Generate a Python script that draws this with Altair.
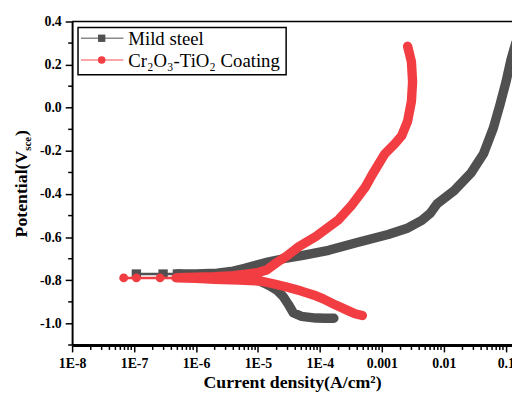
import altair as alt
import pandas as pd

# ---- data (current density A/cm^2, potential V) ----
steel_cath_current = [1.68e-4, 1.2e-4, 8.6e-5, 5.0e-5, 3.7e-5, 3.1e-5, 2.57e-5, 2.06e-5,
                      1.54e-5, 1.07e-5, 6e-6, 3e-6, 1.5e-6, 8e-7, 5e-7]
steel_cath_potential = [-0.976, -0.976, -0.975, -0.967, -0.95, -0.912, -0.876, -0.848,
                        -0.825, -0.803, -0.79, -0.783, -0.778, -0.775, -0.773]
steel_anod_current = [5e-7, 1e-6, 2.2e-6, 4e-6, 5.9e-6, 9.5e-6, 1.5e-5, 2.57e-5, 5.3e-5,
                      1.38e-4, 4e-4, 1.26e-3, 2.5e-3, 4.4e-3, 6e-3, 7.8e-3, 0.0146, 0.0272,
                      0.0437, 0.063, 0.081, 0.101, 0.122, 0.145]
steel_anod_potential = [-0.771, -0.770, -0.767, -0.757, -0.745, -0.729, -0.714, -0.70, -0.684,
                        -0.661, -0.625, -0.588, -0.56, -0.522, -0.49, -0.445, -0.385, -0.304,
                        -0.213, -0.094, 0.016, 0.121, 0.226, 0.30]
steel_sparse_current = [1.09e-7, 2.94e-7, 5.0e-7]
steel_sparse_potential = [-0.771, -0.771, -0.771]

coat_cath_current = [4.84e-4, 3.7e-4, 2.9e-4, 1.8e-4, 1.11e-4, 8.6e-5, 5e-5, 2.8e-5, 1.7e-5,
                     1.07e-5, 5e-6, 2e-6, 1e-6, 5e-7]
coat_cath_potential = [-0.963, -0.955, -0.942, -0.915, -0.885, -0.872, -0.85, -0.83, -0.815,
                       -0.803, -0.799, -0.795, -0.791, -0.789]
coat_anod_current = [5e-7, 1e-6, 2e-6, 4e-6, 7e-6, 1.0e-5, 1.38e-5, 2.0e-5, 2.9e-5, 4.6e-5,
                     8.6e-5, 2.0e-4, 3.3e-4, 5.4e-4, 6.9e-4, 1.12e-3, 1.62e-3, 2.09e-3,
                     2.6e-3, 3.0e-3, 3.13e-3, 3.0e-3, 2.7e-3, 2.6e-3]
coat_anod_potential = [-0.788, -0.786, -0.783, -0.778, -0.77, -0.764, -0.752, -0.718, -0.688,
                       -0.643, -0.597, -0.519, -0.45, -0.368, -0.313, -0.213, -0.167, -0.13,
                       -0.062, 0.03, 0.121, 0.213, 0.267, 0.285]
coat_sparse_current = [6.8e-8, 1.09e-7, 2.63e-7, 4.7e-7]
coat_sparse_potential = [-0.789, -0.789, -0.789, -0.789]

series_names = ["Mild steel", "Cr\u2082O\u2083-TiO\u2082 Coating"]
x_tick_values = [1e-8, 1e-7, 1e-6, 1e-5, 1e-4, 1e-3, 1e-2, 1e-1]
x_tick_labels = ["1E-8", "1E-7", "1E-6", "1E-5", "1E-4", "0.001", "0.01", "0.1"]
y_tick_values = [-1.0, -0.8, -0.6, -0.4, -0.2, 0.0, 0.2, 0.4]
y_tick_labels = ["-1.0", "-0.8", "-0.6", "-0.4", "-0.2", "0.0", "0.2", "0.4"]

STEEL = "#505050"
RED = "#F23E42"
FONT = "Liberation Serif"

x_minor = [k * d for d in x_tick_values[:-1] for k in range(2, 10)]
y_minor = [-1.1, -0.9, -0.7, -0.5, -0.3, -0.1, 0.1, 0.3]


def branch(cur, pot):
    return pd.DataFrame({"i": cur, "v": pot, "k": list(range(len(cur)))})


steel_thick = branch(steel_cath_current + steel_anod_current,
                     steel_cath_potential + steel_anod_potential)
coat_thick = branch(coat_cath_current + coat_anod_current,
                    coat_cath_potential + coat_anod_potential)
steel_sparse = branch(steel_sparse_current, steel_sparse_potential)
coat_sparse = branch(coat_sparse_current, coat_sparse_potential)

x_label_expr = "%s[round(log(datum.value)/LN10) + 8]" % str(x_tick_labels)
y_label_expr = "%s[round((datum.value + 1) * 5)]" % str(y_tick_labels)

x_enc = alt.X(
    "i:Q",
    scale=alt.Scale(type="log", domain=[1e-8, 0.126], nice=False),
    axis=alt.Axis(
        values=x_tick_values, labelExpr=x_label_expr,
        tickSize=7, tickWidth=1.5, tickColor="black", domainWidth=3, domainColor="black",
        labelFont=FONT, labelFontSize=14, labelFontWeight="bold", labelColor="black",
        labelPadding=5, labelFlush=False, labelOverlap=False, grid=False,
        title="Current density(A/cm\u00b2)", titleFont=FONT, titleFontSize=18,
        titleFontWeight="bold", titleColor="black", titlePadding=3,
    ),
)
y_enc = alt.Y(
    "v:Q",
    scale=alt.Scale(domain=[-1.1, 0.4], nice=False, zero=False),
    axis=alt.Axis(
        values=y_tick_values, labelExpr=y_label_expr,
        tickSize=7, tickWidth=1.5, tickColor="black", domainWidth=2, domainColor="black",
        labelFont=FONT, labelFontSize=14, labelFontWeight="bold", labelColor="black",
        labelPadding=4, labelOverlap=False, grid=False, title=None,
    ),
)

steel_line = alt.Chart(steel_thick).mark_line(
    color=STEEL, strokeWidth=9.5, strokeCap="round", strokeJoin="round", clip=True
).encode(x=x_enc, y=y_enc, order="k:Q")
steel_thin = alt.Chart(steel_sparse).mark_line(color=STEEL, strokeWidth=2.5).encode(
    x="i:Q", y="v:Q", order="k:Q")
steel_pts = alt.Chart(steel_sparse).mark_point(
    shape="square", filled=True, color=STEEL, size=90, opacity=1).encode(x="i:Q", y="v:Q")

coat_line = alt.Chart(coat_thick).mark_line(
    color=RED, strokeWidth=9.5, strokeCap="round", strokeJoin="round", clip=True
).encode(x="i:Q", y="v:Q", order="k:Q")
coat_thin = alt.Chart(coat_sparse).mark_line(color=RED, strokeWidth=2.5).encode(
    x="i:Q", y="v:Q", order="k:Q")
coat_pts = alt.Chart(coat_sparse).mark_point(
    shape="circle", filled=True, color=RED, size=80, opacity=1).encode(x="i:Q", y="v:Q")

# minor ticks
x_minor_ticks = alt.Chart(pd.DataFrame({"i": x_minor})).mark_rule(
    color="black", strokeWidth=1.5).encode(x="i:Q", y=alt.value(328), y2=alt.value(333))
y_minor_ticks = alt.Chart(pd.DataFrame({"v": y_minor})).mark_rule(
    color="black", strokeWidth=1.5).encode(y="v:Q", x=alt.value(0), x2=alt.value(-4))

one = pd.DataFrame({"a": [0]})
top_border = alt.Chart(one).mark_rule(color="black", strokeWidth=1.5).encode(
    x=alt.value(0), x2=alt.value(446), y=alt.value(0))

# legend
leg_box = alt.Chart(one).mark_rect(fill="white", stroke="black", strokeWidth=1.5).encode(
    x=alt.value(6), x2=alt.value(217), y=alt.value(6), y2=alt.value(54))
leg_l1 = alt.Chart(one).mark_rule(color="#8a8a8a", strokeWidth=1.5).encode(
    x=alt.value(9), x2=alt.value(52), y=alt.value(17))
leg_l2 = alt.Chart(one).mark_rule(color="#f78a8c", strokeWidth=1.5).encode(
    x=alt.value(9), x2=alt.value(52), y=alt.value(39))
leg_p1 = alt.Chart(one).mark_point(shape="square", filled=True, color=STEEL, size=55,
                                   opacity=1).encode(x=alt.value(30), y=alt.value(17))
leg_p2 = alt.Chart(one).mark_point(shape="circle", filled=True, color=RED, size=60,
                                   opacity=1).encode(x=alt.value(30), y=alt.value(39))
leg_t1 = alt.Chart(one).mark_text(text=series_names[0], font=FONT, fontSize=19,
                                  align="left", baseline="alphabetic", color="black").encode(
    x=alt.value(57), y=alt.value(24))
leg_t2 = alt.Chart(one).mark_text(text=series_names[1], font=FONT, fontSize=19,
                                  align="left", baseline="alphabetic", color="black").encode(
    x=alt.value(57), y=alt.value(46))

# y title with subscript
yt1 = alt.Chart(one).mark_text(text="Potential(V", font=FONT, fontSize=18, fontWeight="bold",
                               angle=270, align="right", baseline="alphabetic",
                               color="black").encode(x=alt.value(-46), y=alt.value(131))
yt2 = alt.Chart(one).mark_text(text="sce", font=FONT, fontSize=11, fontWeight="bold",
                               angle=270, align="left", baseline="alphabetic",
                               color="black").encode(x=alt.value(-42), y=alt.value(131))
yt3 = alt.Chart(one).mark_text(text=")", font=FONT, fontSize=18, fontWeight="bold",
                               angle=270, align="left", baseline="alphabetic",
                               color="black").encode(x=alt.value(-46), y=alt.value(116))

chart = alt.layer(
    steel_line, steel_thin, steel_pts, coat_line, coat_thin, coat_pts,
    x_minor_ticks, y_minor_ticks, top_border,
    leg_box, leg_l1, leg_l2, leg_p1, leg_p2, leg_t1, leg_t2, yt1, yt2, yt3,
).properties(
    width=446, height=328,
    autosize=alt.AutoSizeParams(type="none"),
    padding={"left": 65, "top": 11, "right": 0, "bottom": 47},
    background="white",
).configure_view(stroke=None)

chart.save("out.html", embed_options={"renderer": "svg", "actions": False})
